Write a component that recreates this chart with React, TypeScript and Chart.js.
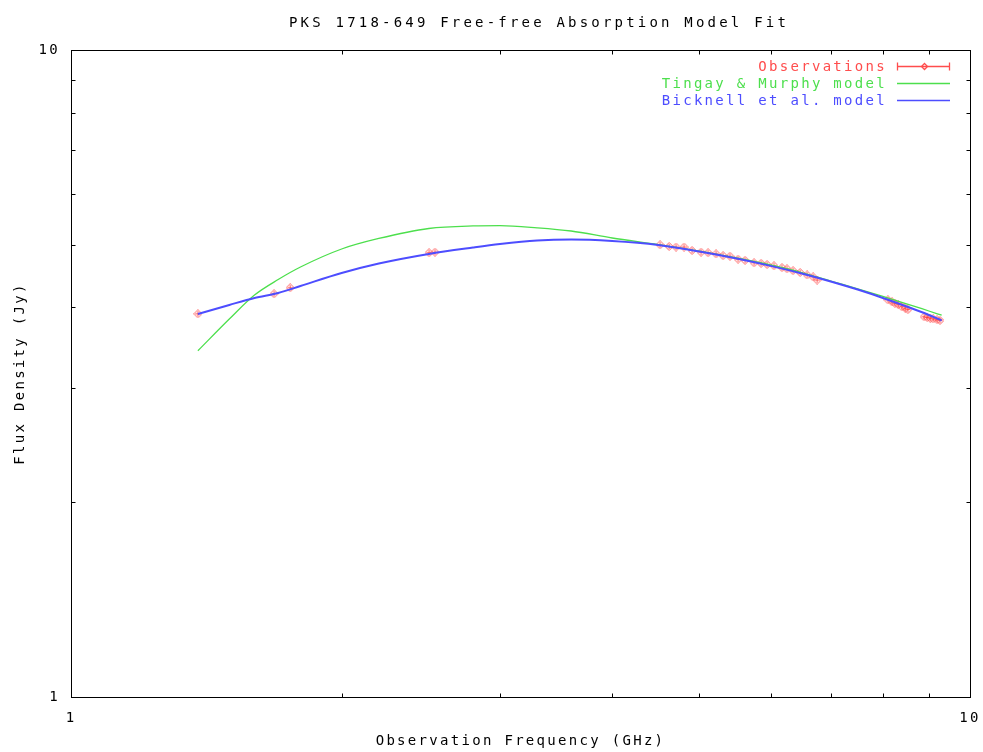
import React, { useEffect, useRef } from 'react';
import { Chart, registerables } from 'chart.js';

Chart.register(...registerables);

const TITLE = 'PKS 1718-649 Free-free Absorption Model Fit';
const X_TITLE = 'Observation Frequency (GHz)';
const Y_TITLE = 'Flux Density (Jy)';
const TICK_VALUES = [1, 10];
const MINOR_TICKS = [2, 3, 4, 5, 6, 7, 8, 9];
const LEGEND_LABELS = ['Observations', 'Tingay & Murphy model', 'Bicknell et al. model'];

const obsFreq = [
  1.384, 1.682, 1.753, 2.502, 2.54,
  4.521, 4.627, 4.71, 4.807, 4.907, 5.021, 5.112, 5.218, 5.312, 5.408, 5.52,
  5.62, 5.751, 5.855, 5.946, 6.053, 6.178, 6.258, 6.355, 6.471, 6.589, 6.691, 6.759,
  8.104, 8.19, 8.25, 8.32, 8.4, 8.47, 8.53, 8.89, 8.96, 9.03, 9.1, 9.19, 9.26,
];
const obsFlux = [
  3.91, 4.2, 4.29, 4.86, 4.87,
  5.0, 4.97, 4.96, 4.96, 4.9, 4.87, 4.86, 4.84, 4.81, 4.8, 4.75,
  4.73, 4.69, 4.68, 4.66, 4.64, 4.61, 4.59, 4.56, 4.53, 4.49, 4.46, 4.41,
  4.11, 4.08, 4.06, 4.04, 4.01, 3.99, 3.97, 3.87, 3.86, 3.85, 3.84, 3.83, 3.82,
];

const modelFreq = [
  1.384, 1.5, 1.6, 1.7, 1.8, 2.0, 2.2, 2.5, 2.8, 3.0, 3.3, 3.6,
  4.0, 4.5, 5.0, 5.5, 6.0, 6.5, 7.0, 7.5, 8.0, 8.5, 9.0, 9.3,
];
const tingayFlux = [
  3.429, 3.839, 4.181, 4.418, 4.619, 4.925, 5.113, 5.298, 5.346, 5.351, 5.311, 5.251,
  5.122, 5.004, 4.89, 4.77, 4.653, 4.53, 4.395, 4.275, 4.162, 4.053, 3.95, 3.892,
];
const bicknellFlux = [
  3.908, 4.036, 4.137, 4.212, 4.318, 4.522, 4.677, 4.839, 4.951, 5.013, 5.076, 5.094,
  5.067, 4.996, 4.881, 4.761, 4.638, 4.514, 4.388, 4.263, 4.138, 4.014, 3.894, 3.819,
];

const RED = '#ff4d4d';
const GREEN = '#4ddf4d';
const BLUE = '#4d4dff';
const FONT = "'DejaVu Sans Mono', monospace";
const SPACING = '2.3px';

const pairs = (xs: number[], ys: number[]) => xs.map((x, i) => ({ x, y: ys[i] }));

function makeObsPoint(): HTMLCanvasElement {
  const c = document.createElement('canvas');
  c.width = 9;
  c.height = 9;
  const g = c.getContext('2d')!;
  g.strokeStyle = 'rgba(255,60,60,0.8)';
  g.lineWidth = 1;
  g.beginPath();
  g.moveTo(4.5, 0.5);
  g.lineTo(8.5, 4.5);
  g.lineTo(4.5, 8.5);
  g.lineTo(0.5, 4.5);
  g.closePath();
  g.moveTo(4.5, 2);
  g.lineTo(4.5, 7);
  g.moveTo(2, 4.5);
  g.lineTo(7, 4.5);
  g.stroke();
  return c;
}

const framePlugin = {
  id: 'gnuFrame',
  beforeDraw(chart: any) {
    chart.ctx.letterSpacing = SPACING;
  },
  afterDraw(chart: any) {
    const { ctx, chartArea: a, scales } = chart;
    ctx.save();
    ctx.strokeStyle = '#000';
    ctx.lineWidth = 1;
    const L = Math.round(a.left) + 0.5;
    const R = Math.round(a.right) + 0.5;
    const T = Math.round(a.top) + 0.5;
    const B = Math.round(a.bottom) + 0.5;
    ctx.strokeRect(L, T, R - L, B - T);
    ctx.beginPath();
    const len = 4;
    MINOR_TICKS.forEach((v) => {
      const x = Math.round(scales.x.getPixelForValue(v)) + 0.5;
      ctx.moveTo(x, B);
      ctx.lineTo(x, B - len);
      ctx.moveTo(x, T);
      ctx.lineTo(x, T + len);
      const y = Math.round(scales.y.getPixelForValue(v)) + 0.5;
      ctx.moveTo(L, y);
      ctx.lineTo(L + len, y);
      ctx.moveTo(R, y);
      ctx.lineTo(R - len, y);
    });
    ctx.stroke();

    // title
    ctx.font = `14px ${FONT}`;
    ctx.letterSpacing = '3.2px';
    ctx.fillStyle = '#000';
    ctx.textAlign = 'center';
    ctx.textBaseline = 'middle';
    ctx.fillText(TITLE, 539, 23);

    // legend
    ctx.font = `14px ${FONT}`;
    ctx.letterSpacing = SPACING;
    ctx.textAlign = 'right';
    ctx.textBaseline = 'middle';
    const colors = [RED, GREEN, BLUE];
    const rows = [66, 83, 100];
    const textRight = 887;
    const x0 = 897;
    const x1 = 950;
    LEGEND_LABELS.forEach((label, i) => {
      const y = rows[i];
      ctx.fillStyle = colors[i];
      ctx.fillText(label, textRight, y + 1);
      ctx.strokeStyle = colors[i];
      ctx.lineWidth = i === 2 ? 1.6 : 1.3;
      ctx.beginPath();
      ctx.moveTo(x0, y + 0.5);
      ctx.lineTo(x1, y + 0.5);
      if (i === 0) {
        ctx.moveTo(x0 + 0.5, y - 3.5);
        ctx.lineTo(x0 + 0.5, y + 4.5);
        ctx.moveTo(x1 - 0.5, y - 3.5);
        ctx.lineTo(x1 - 0.5, y + 4.5);
      }
      ctx.stroke();
      if (i === 0) {
        const cx = Math.round((x0 + x1) / 2) + 0.5;
        ctx.beginPath();
        ctx.moveTo(cx, y - 2.5);
        ctx.lineTo(cx + 3, y + 0.5);
        ctx.lineTo(cx, y + 3.5);
        ctx.lineTo(cx - 3, y + 0.5);
        ctx.closePath();
        ctx.stroke();
      }
    });
    ctx.restore();
  },
};

export default function App() {
  const ref = useRef<HTMLCanvasElement | null>(null);

  useEffect(() => {
    if (!ref.current) return;
    const obsPoint = makeObsPoint();
    const chart = new Chart(ref.current, {
      type: 'scatter',
      data: {
        datasets: [
          {
            label: LEGEND_LABELS[2],
            data: pairs(modelFreq, bicknellFlux),
            showLine: true,
            borderColor: BLUE,
            borderWidth: 2,
            pointRadius: 0,
            cubicInterpolationMode: 'monotone',
            order: 0,
          },
          {
            label: LEGEND_LABELS[1],
            data: pairs(modelFreq, tingayFlux),
            showLine: true,
            borderColor: GREEN,
            borderWidth: 1.3,
            pointRadius: 0,
            cubicInterpolationMode: 'monotone',
            order: 1,
          },
          {
            label: LEGEND_LABELS[0],
            data: pairs(obsFreq, obsFlux),
            showLine: false,
            pointStyle: obsPoint,
            pointRadius: 4,
            order: 2,
          },
        ] as any,
      },
      options: {
        animation: false,
        responsive: false,
        maintainAspectRatio: false,
        layout: { padding: { left: 0, right: 13, top: 50, bottom: 0 } },
        plugins: {
          legend: { display: false },
          tooltip: { enabled: false },
          title: { display: false },
        },
        scales: {
          x: {
            type: 'logarithmic',
            min: 1,
            max: 10,
            grid: { display: false, drawTicks: false, tickLength: 0 },
            border: { display: false },
            afterBuildTicks: (axis: any) => {
              axis.ticks = TICK_VALUES.map((v) => ({ value: v }));
            },
            afterFit: (scale: any) => {
              scale.height = 55;
              scale.paddingLeft = 0;
              scale.paddingRight = 0;
            },
            ticks: {
              color: '#000',
              font: { family: FONT, size: 14 },
              padding: 13,
              maxRotation: 0,
              autoSkip: false,
              callback: (v: any) => String(v),
            },
            title: {
              display: true,
              text: X_TITLE,
              color: '#000',
              font: { family: FONT, size: 14 },
              padding: { top: 4, bottom: 2 },
            },
          },
          y: {
            type: 'logarithmic',
            min: 1,
            max: 10,
            grid: { display: false, drawTicks: false, tickLength: 0 },
            border: { display: false },
            afterBuildTicks: (axis: any) => {
              axis.ticks = TICK_VALUES.map((v) => ({ value: v }));
            },
            afterFit: (scale: any) => {
              scale.width = 71;
              scale.paddingTop = 0;
              scale.paddingBottom = 0;
            },
            ticks: {
              color: '#000',
              font: { family: FONT, size: 14 },
              padding: 11,
              autoSkip: false,
              callback: (v: any) => String(v),
            },
            title: {
              display: true,
              text: Y_TITLE,
              color: '#000',
              font: { family: FONT, size: 14 },
              padding: { top: 12, bottom: 0 },
            },
          },
        },
      } as any,
      plugins: [framePlugin],
    });
    return () => chart.destroy();
  }, []);

  return (
    <div style={{ position: 'fixed', left: 0, top: 0, width: 983, height: 752, background: '#fff' }}>
      <canvas ref={ref} width={983} height={752} style={{ display: 'block' }} />
    </div>
  );
}
